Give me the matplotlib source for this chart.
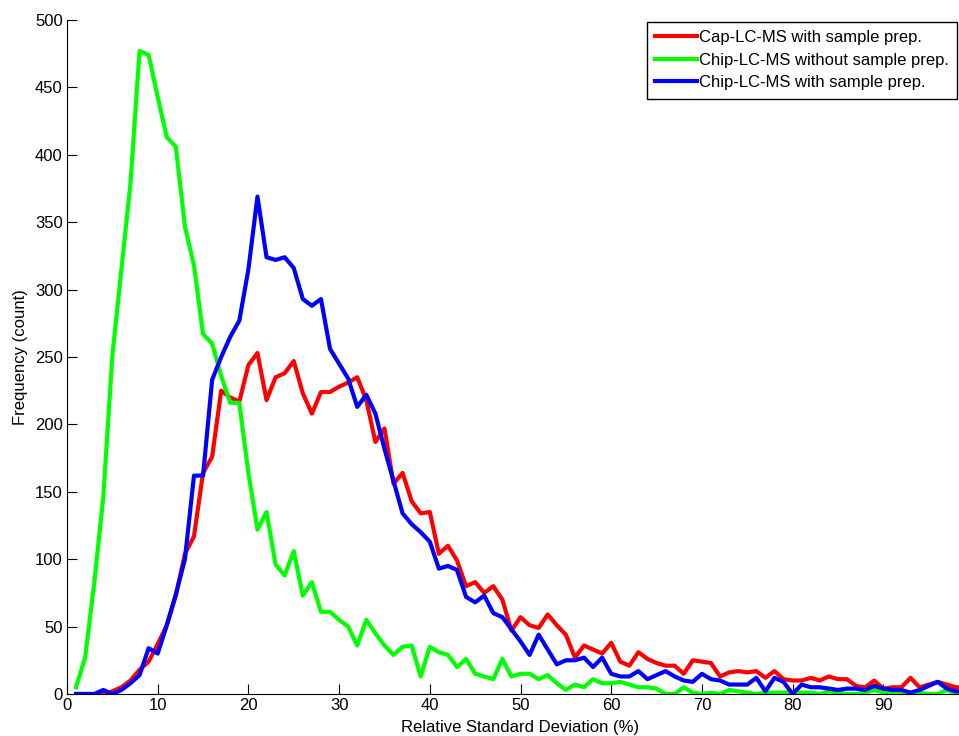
import numpy as np
import matplotlib
matplotlib.use("Agg")
import matplotlib.pyplot as plt

plt.rcParams["font.family"] = ["Liberation Sans", "DejaVu Sans"]

# RSD bins (%)
rsd = np.arange(1, 100)

# frequency per bin
cap_prep = [0, 0, 0, 0, 2, 5, 10, 18, 24, 37, 51, 73, 104, 117, 164, 176, 225, 220, 217, 244,
            253, 218, 235, 238, 247, 223, 208, 224, 224, 228, 231, 235, 218, 187, 197, 156, 164, 143, 134, 135,
            104, 110, 99, 80, 83, 75, 80, 70, 47, 57, 51, 49, 59, 51, 44, 27, 36, 33, 30, 38,
            24, 21, 31, 26, 23, 21, 21, 15, 25, 24, 23, 13, 16, 17, 16, 17, 12, 17, 11, 10,
            10, 12, 10, 13, 11, 11, 6, 5, 10, 4, 5, 5, 12, 5, 7, 9, 7, 5, 5]
chip_noprep = [5, 27, 82, 146, 251, 315, 379, 477, 474, 443, 413, 406, 347, 318, 267, 260, 236, 216, 216, 164,
               122, 135, 96, 88, 106, 73, 83, 61, 61, 55, 50, 36, 55, 45, 36, 29, 35, 36, 13, 35,
               31, 29, 20, 26, 15, 13, 11, 26, 13, 15, 15, 11, 14, 8, 3, 7, 5, 11, 8, 8,
               9, 7, 5, 5, 4, 0, 0, 5, 1, 0, 1, 0, 3, 2, 1, 0, 1, 1, 1, 1,
               1, 1, 0, 2, 1, 0, 0, 1, 3, 1, 1, 1, 0, 1, 0, 0, 3, 0, 0]
chip_prep = [0, 0, 0, 3, 0, 3, 8, 14, 34, 30, 51, 74, 100, 162, 162, 233, 250, 265, 277, 315,
             369, 324, 322, 324, 316, 293, 288, 293, 256, 245, 234, 213, 222, 208, 182, 158, 134, 126, 120, 113,
             93, 95, 92, 72, 68, 73, 60, 57, 48, 39, 29, 44, 33, 22, 25, 25, 27, 20, 27, 15,
             13, 13, 17, 11, 14, 17, 13, 10, 9, 15, 11, 10, 7, 7, 7, 12, 2, 12, 9, 0,
             7, 5, 5, 4, 3, 4, 4, 3, 6, 4, 3, 3, 1, 3, 6, 9, 4, 2, 2]

fig = plt.figure(figsize=(9.59, 7.36), dpi=100)
ax = fig.add_axes([67 / 959, 42 / 736, 907 / 959, 674 / 736])

ax.plot(rsd, cap_prep, color="#ff0000", lw=3, label="Cap-LC-MS with sample prep.")
ax.plot(rsd, chip_noprep, color="#00ff00", lw=3, label="Chip-LC-MS without sample prep.")
ax.plot(rsd, chip_prep, color="#0000ff", lw=3, label="Chip-LC-MS with sample prep.")

ax.set_xlim(0, 100)
ax.set_ylim(0, 500)
ax.set_xticks(np.arange(0, 100, 10))
ax.set_yticks(np.arange(0, 501, 50))
ax.tick_params(direction="in", length=7, labelsize=12, colors="black", pad=3)
for s in ["top", "right"]:
    ax.spines[s].set_visible(False)

ax.set_xlabel("Relative Standard Deviation (%)", fontsize=12, labelpad=5)
ax.set_ylabel("Frequency (count)", fontsize=12, labelpad=5)

leg = fig.legend(loc="upper right", bbox_to_anchor=(957 / 959, 714 / 736),
                 fontsize=12, frameon=True, fancybox=False, framealpha=1,
                 edgecolor="black", borderaxespad=0, handlelength=2.5,
                 handletextpad=0.1, labelspacing=0.45, borderpad=0.5)
leg.get_frame().set_linewidth(1.0)

fig.savefig("out.png", dpi=100)
